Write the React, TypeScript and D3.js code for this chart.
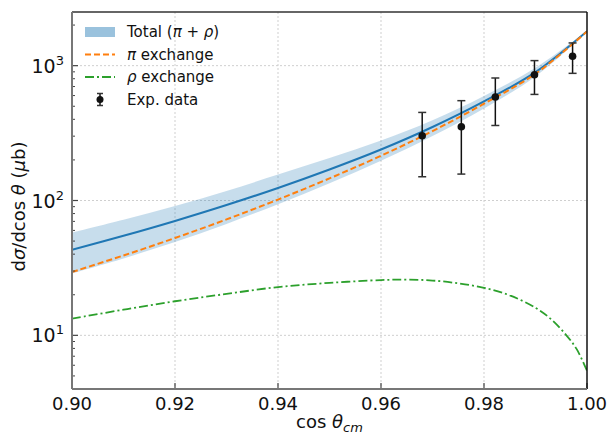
import React, { useRef, useEffect } from 'react';
import * as d3 from 'd3';

// cos(theta_cm) grid for the model curves
const cosTheta = [0.90, 0.91, 0.92, 0.93, 0.94, 0.95, 0.96, 0.97, 0.98, 0.99, 1.00];
const totalMid = [43.1, 54.7, 70.5, 92.5, 123.9, 169.8, 238.8, 350.8, 543, 895, 1799];
const totalHigh = [58, 72.1, 91.2, 117.8, 155.6, 206.5, 278.6, 393.6, 595.7, 966, 1811];
const totalLow = [28.8, 37.2, 49.2, 67.0, 93.8, 134.3, 197.2, 300.6, 482, 832, 1778];
const piExchange = [29.5, 39.1, 52.7, 72.4, 101.6, 145.9, 214.8, 327.3, 522.4, 871, 1791];

const rhoCos = [0.90, 0.91, 0.92, 0.93, 0.94, 0.95, 0.96, 0.965, 0.97, 0.975, 0.98, 0.985, 0.99, 0.993, 0.996, 0.998, 1.00];
const rhoExchange = [13.3, 15.5, 17.9, 20.3, 22.8, 24.5, 25.7, 25.9, 25.5, 24.3, 22.5, 19.8, 16.0, 13.2, 10.0, 7.9, 5.46];

const expCos = [0.968, 0.9756, 0.9822, 0.9898, 0.9972];
const expVal = [302, 352, 585, 857, 1173];
const expHigh = [450, 550, 810, 1090, 1474];
const expLow = [150, 157, 360, 612, 877];

const xTicks = [0.90, 0.92, 0.94, 0.96, 0.98, 1.00];
const yTicks = [10, 100, 1000];
const yExps = ['1', '2', '3'];

const App = () => {
  const svgRef = useRef<SVGSVGElement>(null);
  const width = 613;
  const height = 434;

  useEffect(() => {
    document.body.style.margin = '0';
    const svg = d3.select(svgRef.current);
    svg.selectAll('*').remove();

    const margin = { top: 12, right: 26, bottom: 45, left: 72 };
    const innerWidth = width - margin.left - margin.right;
    const innerHeight = height - margin.top - margin.bottom;
    const font = 'DejaVu Sans, sans-serif';

    const g = svg.append('g').attr('transform', `translate(${margin.left},${margin.top})`);

    const x = d3.scaleLinear().domain([0.9, 1.0]).range([0, innerWidth]);
    const y = d3.scaleLog().domain([4, 2500]).range([innerHeight, 0]);

    // grid
    g.selectAll('.gx')
      .data(xTicks.slice(1, -1))
      .enter()
      .append('line')
      .attr('x1', d => x(d)).attr('x2', d => x(d))
      .attr('y1', 0).attr('y2', innerHeight)
      .attr('stroke', '#cfcfcf').attr('stroke-width', 1)
      .attr('stroke-dasharray', '2,2');
    g.selectAll('.gy')
      .data(yTicks)
      .enter()
      .append('line')
      .attr('x1', 0).attr('x2', innerWidth)
      .attr('y1', d => y(d)).attr('y2', d => y(d))
      .attr('stroke', '#cfcfcf').attr('stroke-width', 1)
      .attr('stroke-dasharray', '2,2');

    g.append('clipPath').attr('id', 'clip')
      .append('rect').attr('width', innerWidth).attr('height', innerHeight);
    const clipped = g.append('g').attr('clip-path', 'url(#clip)');

    // band
    const area = d3.area<number>()
      .x((d, i) => x(cosTheta[i]))
      .y0((d, i) => y(totalLow[i]))
      .y1((d, i) => y(totalHigh[i]))
      .curve(d3.curveCatmullRom);
    clipped.append('path')
      .datum(totalMid)
      .attr('d', area)
      .attr('fill', '#1f77b4')
      .attr('fill-opacity', 0.25);

    const line = (xs: number[]) => d3.line<number>()
      .x((d, i) => x(xs[i]))
      .y(d => y(d))
      .curve(d3.curveCatmullRom);

    clipped.append('path')
      .datum(totalMid)
      .attr('d', line(cosTheta))
      .attr('fill', 'none')
      .attr('stroke', '#1f77b4')
      .attr('stroke-width', 2);

    clipped.append('path')
      .datum(piExchange)
      .attr('d', line(cosTheta))
      .attr('fill', 'none')
      .attr('stroke', '#ff7f0e')
      .attr('stroke-width', 2)
      .attr('stroke-dasharray', '6,3');

    clipped.append('path')
      .datum(rhoExchange)
      .attr('d', line(rhoCos))
      .attr('fill', 'none')
      .attr('stroke', '#2ca02c')
      .attr('stroke-width', 1.8)
      .attr('stroke-dasharray', '9,3,2,3');

    // experimental points
    const pts = g.selectAll('.pt')
      .data(expCos)
      .enter()
      .append('g');
    pts.append('line')
      .attr('x1', d => x(d)).attr('x2', d => x(d))
      .attr('y1', (d, i) => y(expLow[i])).attr('y2', (d, i) => y(expHigh[i]))
      .attr('stroke', '#111').attr('stroke-width', 1.5);
    pts.append('line')
      .attr('x1', d => x(d) - 4).attr('x2', d => x(d) + 4)
      .attr('y1', (d, i) => y(expLow[i])).attr('y2', (d, i) => y(expLow[i]))
      .attr('stroke', '#333').attr('stroke-width', 1.5);
    pts.append('line')
      .attr('x1', d => x(d) - 4).attr('x2', d => x(d) + 4)
      .attr('y1', (d, i) => y(expHigh[i])).attr('y2', (d, i) => y(expHigh[i]))
      .attr('stroke', '#333').attr('stroke-width', 1.5);
    pts.append('circle')
      .attr('cx', d => x(d))
      .attr('cy', (d, i) => y(expVal[i]))
      .attr('r', 3.8)
      .attr('fill', '#111');

    // minor ticks on log axis
    const minors: number[] = [];
    [1, 10, 100, 1000].forEach(dec => {
      for (let k = 2; k <= 9; k++) {
        const v = dec * k;
        if (v >= 4 && v <= 2500) minors.push(v);
      }
    });
    g.selectAll('.ym')
      .data(minors)
      .enter()
      .append('line')
      .attr('x1', 0).attr('x2', 3)
      .attr('y1', d => y(d)).attr('y2', d => y(d))
      .attr('stroke', '#444').attr('stroke-width', 1);
    g.selectAll('.yM')
      .data(yTicks)
      .enter()
      .append('line')
      .attr('x1', 0).attr('x2', 6)
      .attr('y1', d => y(d)).attr('y2', d => y(d))
      .attr('stroke', '#444').attr('stroke-width', 1.2);
    g.selectAll('.xM')
      .data(xTicks)
      .enter()
      .append('line')
      .attr('x1', d => x(d)).attr('x2', d => x(d))
      .attr('y1', innerHeight).attr('y2', innerHeight - 6)
      .attr('stroke', '#444').attr('stroke-width', 1.2);

    // spines
    g.append('line').attr('x1', 0).attr('x2', innerWidth).attr('y1', 0).attr('y2', 0)
      .attr('stroke', '#333').attr('stroke-width', 1.5);
    g.append('line').attr('x1', innerWidth).attr('x2', innerWidth).attr('y1', 0).attr('y2', innerHeight)
      .attr('stroke', '#111').attr('stroke-width', 1.5);
    g.append('line').attr('x1', 0).attr('x2', innerWidth).attr('y1', innerHeight).attr('y2', innerHeight)
      .attr('stroke', '#777').attr('stroke-width', 2);
    g.append('line').attr('x1', 0).attr('x2', 0).attr('y1', 0).attr('y2', innerHeight)
      .attr('stroke', '#777').attr('stroke-width', 2);

    // tick labels
    g.selectAll('.xl')
      .data(xTicks)
      .enter()
      .append('text')
      .attr('x', d => x(d))
      .attr('y', innerHeight + 21)
      .attr('text-anchor', 'middle')
      .attr('font-family', font)
      .attr('font-size', 18)
      .attr('fill', '#111')
      .text(d => d.toFixed(2));

    const yl = g.selectAll('.yl')
      .data(yTicks)
      .enter()
      .append('text')
      .attr('x', -8)
      .attr('y', d => y(d) + 7)
      .attr('text-anchor', 'end')
      .attr('font-family', font)
      .attr('font-size', 19)
      .attr('fill', '#111');
    yl.append('tspan').text('10');
    yl.append('tspan').attr('dy', -8).attr('font-size', 13).text((d, i) => yExps[i]);

    // axis titles
    const xt = svg.append('text')
      .attr('x', margin.left + innerWidth / 2)
      .attr('y', 428)
      .attr('text-anchor', 'middle')
      .attr('font-family', font)
      .attr('font-size', 18)
      .attr('fill', '#111');
    xt.append('tspan').text('cos ');
    xt.append('tspan').attr('font-style', 'italic').text('θ');
    xt.append('tspan').attr('font-style', 'italic').attr('font-size', 13).attr('dy', 4).text('cm');

    const ytl = svg.append('text')
      .attr('transform', `translate(25,${margin.top + innerHeight / 2 + 6}) rotate(-90)`)
      .attr('text-anchor', 'middle')
      .attr('font-family', font)
      .attr('font-size', 18)
      .attr('fill', '#111');
    ytl.append('tspan').text('d');
    ytl.append('tspan').attr('font-style', 'italic').text('σ');
    ytl.append('tspan').text('/dcos ');
    ytl.append('tspan').attr('font-style', 'italic').text('θ');
    ytl.append('tspan').text(' (');
    ytl.append('tspan').attr('font-style', 'italic').text('μ');
    ytl.append('tspan').text('b)');

    // legend
    const legend = svg.append('g').attr('transform', 'translate(85, 32)');
    const rowH = 22.5;

    legend.append('rect')
      .attr('x', 0).attr('y', -5)
      .attr('width', 30).attr('height', 10)
      .attr('fill', '#1f77b4').attr('fill-opacity', 0.45);
    legend.append('line')
      .attr('x1', 0).attr('x2', 30).attr('y1', rowH).attr('y2', rowH)
      .attr('stroke', '#ff7f0e').attr('stroke-width', 2).attr('stroke-dasharray', '6,3');
    legend.append('line')
      .attr('x1', 0).attr('x2', 30).attr('y1', rowH * 2).attr('y2', rowH * 2)
      .attr('stroke', '#2ca02c').attr('stroke-width', 1.8).attr('stroke-dasharray', '9,3,2,3');
    legend.append('line')
      .attr('x1', 15).attr('x2', 15).attr('y1', rowH * 3 - 6).attr('y2', rowH * 3 + 6)
      .attr('stroke', '#111').attr('stroke-width', 1.5);
    legend.append('line')
      .attr('x1', 12).attr('x2', 18).attr('y1', rowH * 3 - 6).attr('y2', rowH * 3 - 6)
      .attr('stroke', '#333').attr('stroke-width', 1.5);
    legend.append('line')
      .attr('x1', 12).attr('x2', 18).attr('y1', rowH * 3 + 6).attr('y2', rowH * 3 + 6)
      .attr('stroke', '#333').attr('stroke-width', 1.5);
    legend.append('circle')
      .attr('cx', 15).attr('cy', rowH * 3).attr('r', 3.5).attr('fill', '#111');

    const lt = (i: number) => legend.append('text')
      .attr('x', 42)
      .attr('y', i * rowH + 5)
      .attr('font-family', font)
      .attr('font-size', 15)
      .attr('fill', '#111');
    const t0 = lt(0);
    t0.append('tspan').text('Total (');
    t0.append('tspan').attr('font-style', 'italic').text('π');
    t0.append('tspan').text(' + ');
    t0.append('tspan').attr('font-style', 'italic').text('ρ');
    t0.append('tspan').text(')');
    const t1 = lt(1);
    t1.append('tspan').attr('font-style', 'italic').text('π');
    t1.append('tspan').text(' exchange');
    const t2 = lt(2);
    t2.append('tspan').attr('font-style', 'italic').text('ρ');
    t2.append('tspan').text(' exchange');
    lt(3).text('Exp. data');
  }, []);

  return <svg ref={svgRef} width={width} height={height} style={{ display: 'block' }}></svg>;
};

export default App;
